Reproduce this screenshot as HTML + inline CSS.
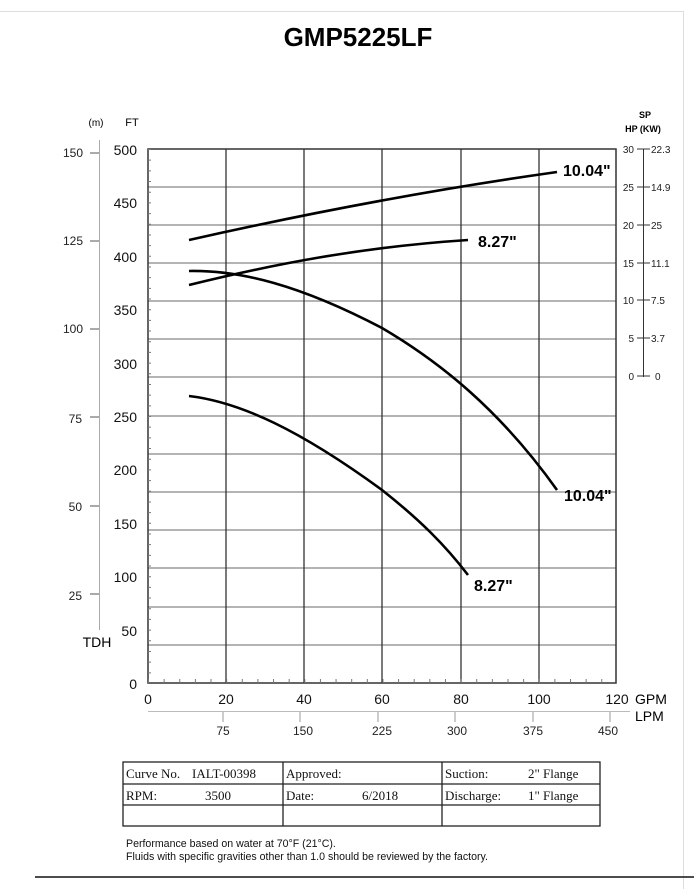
<!DOCTYPE html>
<html><head><meta charset="utf-8"><style>
html,body{margin:0;padding:0;background:#fff;}
svg{display:block;font-family:"Liberation Sans",Arial,sans-serif;}
</style></head><body>
<svg width="694" height="889" viewBox="0 0 694 889" xmlns="http://www.w3.org/2000/svg">
<rect width="694" height="889" fill="#fff"/>
<path d="M0 11.5H683.5V889" fill="none" stroke="#ddd" stroke-width="1"/>
<text x="358" y="46" font-size="26" font-weight="bold" text-anchor="middle">GMP5225LF</text>

<g stroke="#888" stroke-width="1.2">
<line x1="148" y1="187" x2="616" y2="187"/><line x1="148" y1="225" x2="616" y2="225"/>
<line x1="148" y1="263" x2="616" y2="263"/><line x1="148" y1="301" x2="616" y2="301"/>
<line x1="148" y1="339" x2="616" y2="339"/><line x1="148" y1="377" x2="616" y2="377"/>
<line x1="148" y1="416" x2="616" y2="416"/><line x1="148" y1="454" x2="616" y2="454"/>
<line x1="148" y1="492" x2="616" y2="492"/><line x1="148" y1="530" x2="616" y2="530"/>
<line x1="148" y1="568" x2="616" y2="568"/><line x1="148" y1="607" x2="616" y2="607"/>
<line x1="148" y1="645" x2="616" y2="645"/>
</g>
<g stroke="#333" stroke-width="1.3">
<line x1="226" y1="149" x2="226" y2="683"/><line x1="304" y1="149" x2="304" y2="683"/>
<line x1="382" y1="149" x2="382" y2="683"/><line x1="461" y1="149" x2="461" y2="683"/>
<line x1="539" y1="149" x2="539" y2="683"/>
</g>
<rect x="148" y="149" width="468" height="534" fill="none" stroke="#333" stroke-width="1.5"/>
<line x1="149.5" y1="149" x2="149.5" y2="683" stroke="#777" stroke-width="3" stroke-dasharray="1 9.68"/>
<line x1="148" y1="681" x2="616" y2="681" stroke="#777" stroke-width="4" stroke-dasharray="1 14.63"/>

<g font-size="14" text-anchor="end" fill="#111">
<text x="137" y="155">500</text><text x="137" y="208">450</text><text x="137" y="262">400</text>
<text x="137" y="315">350</text><text x="137" y="369">300</text><text x="137" y="422">250</text>
<text x="137" y="475">200</text><text x="137" y="529">150</text><text x="137" y="582">100</text>
<text x="137" y="636">50</text><text x="137" y="689">0</text>
</g>
<text x="132" y="126" font-size="11" text-anchor="middle">FT</text>
<text x="96" y="126" font-size="10" text-anchor="middle">(m)</text>
<text x="97" y="647" font-size="14" text-anchor="middle">TDH</text>
<line x1="99.5" y1="140" x2="99.5" y2="630" stroke="#aaa" stroke-width="1"/>
<g stroke="#555" stroke-width="1">
<line x1="90" y1="153" x2="99" y2="153"/><line x1="90" y1="241" x2="99" y2="241"/>
<line x1="90" y1="329" x2="99" y2="329"/><line x1="90" y1="417" x2="99" y2="417"/>
<line x1="90" y1="506" x2="99" y2="506"/><line x1="90" y1="594" x2="99" y2="594"/>
</g>
<g font-size="12" text-anchor="end" fill="#222">
<text x="83" y="157">150</text><text x="83" y="245">125</text><text x="83" y="333">100</text>
<text x="82" y="423">75</text><text x="82" y="511">50</text><text x="82" y="600">25</text>
</g>

<g font-size="14" text-anchor="middle" fill="#111">
<text x="148" y="704">0</text><text x="226" y="704">20</text><text x="304" y="704">40</text>
<text x="382" y="704">60</text><text x="461" y="704">80</text><text x="539" y="704">100</text>
<text x="617" y="704">120</text>
</g>
<text x="635" y="704" font-size="14">GPM</text>
<text x="635" y="721" font-size="14">LPM</text>
<line x1="148" y1="711.5" x2="630" y2="711.5" stroke="#bbb" stroke-width="1"/>
<g stroke="#999" stroke-width="1">
<line x1="223" y1="712" x2="223" y2="722"/><line x1="300" y1="712" x2="300" y2="722"/>
<line x1="378" y1="712" x2="378" y2="722"/><line x1="455" y1="712" x2="455" y2="722"/>
<line x1="533" y1="712" x2="533" y2="722"/><line x1="610" y1="712" x2="610" y2="722"/>
</g>
<g font-size="12" text-anchor="middle" fill="#222">
<text x="223" y="735">75</text><text x="303" y="735">150</text><text x="382" y="735">225</text>
<text x="457" y="735">300</text><text x="533" y="735">375</text><text x="608" y="735">450</text>
</g>

<line x1="643.5" y1="149" x2="643.5" y2="377" stroke="#333" stroke-width="1"/>
<g stroke="#333" stroke-width="1">
<line x1="637" y1="149" x2="650" y2="149"/><line x1="637" y1="187" x2="650" y2="187"/>
<line x1="637" y1="225" x2="650" y2="225"/><line x1="637" y1="263" x2="650" y2="263"/>
<line x1="637" y1="300" x2="650" y2="300"/><line x1="637" y1="338" x2="650" y2="338"/>
<line x1="637" y1="376" x2="650" y2="376"/>
</g>
<g font-size="10" fill="#222">
<g text-anchor="end">
<text x="634" y="153">30</text><text x="634" y="191">25</text><text x="634" y="229">20</text>
<text x="634" y="267">15</text><text x="634" y="304">10</text><text x="634" y="342">5</text><text x="634" y="380">0</text>
</g>
<text x="651" y="153">22.3</text><text x="651" y="191">14.9</text><text x="651" y="229">25</text>
<text x="651" y="267">11.1</text><text x="651" y="304">7.5</text><text x="651" y="342">3.7</text><text x="655" y="380">0</text>
</g>
<text x="645" y="118" font-size="9" font-weight="bold" text-anchor="middle">SP</text>
<text x="643" y="132" font-size="9" font-weight="bold" text-anchor="middle">HP  (KW)</text>

<g fill="none" stroke="#000" stroke-width="2.6">
<path d="M189 240 C 300 215, 430 190, 557 172"/>
<path d="M189 285 C 270 265, 360 247, 468 240"/>
<path d="M189 271 C 240 270, 300 285, 382 328 C 440 362, 500 410, 557 490"/>
<path d="M189 396 C 240 402, 300 430, 382 490 C 420 520, 445 545, 468 575"/>
</g>
<g font-size="16" font-weight="bold" fill="#000">
<text x="563" y="176">10.04"</text>
<text x="478" y="247">8.27"</text>
<text x="564" y="501">10.04"</text>
<text x="474" y="591">8.27"</text>
</g>

<g stroke="#222" stroke-width="1.3" fill="none">
<rect x="123" y="762" width="477" height="64"/>
<line x1="123" y1="784" x2="600" y2="784"/>
<line x1="123" y1="805" x2="600" y2="805"/>
<line x1="283" y1="762" x2="283" y2="826"/>
<line x1="442" y1="762" x2="442" y2="826"/>
</g>
<g font-family="Liberation Serif,serif" font-size="13" fill="#111">
<text x="126" y="778">Curve No.</text><text x="192" y="778">IALT-00398</text>
<text x="126" y="800">RPM:</text><text x="205" y="800">3500</text>
<text x="286" y="778">Approved:</text>
<text x="286" y="800">Date:</text><text x="362" y="800">6/2018</text>
<text x="445" y="778">Suction:</text><text x="528" y="778">2" Flange</text>
<text x="445" y="800">Discharge:</text><text x="528" y="800">1" Flange</text>
</g>
<g font-size="10.6" fill="#111">
<text x="126" y="847">Performance based on water at 70°F (21°C).</text>
<text x="126" y="860">Fluids with specific gravities other than 1.0 should be reviewed by the factory.</text>
</g>
<line x1="35" y1="877" x2="694" y2="877" stroke="#111" stroke-width="1.5"/>
</svg>
</body></html>
